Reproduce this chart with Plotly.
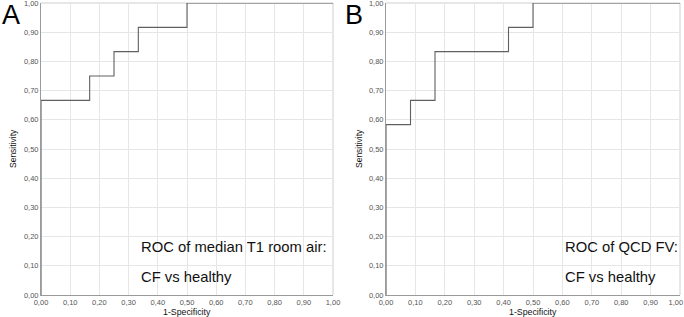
import plotly.graph_objects as go

# Panel A: ROC of median T1 room air
a_fpr = [0.0, 0.0, 1/6, 0.25, 1/3, 0.5, 1.0]
a_tpr = [0.0, 2/3, 0.75, 5/6, 11/12, 1.0, 1.0]
# Panel B: ROC of QCD FV
b_fpr = [0.0, 0.0, 1/12, 1/6, 5/12, 0.5, 1.0]
b_tpr = [0.0, 7/12, 2/3, 5/6, 11/12, 1.0, 1.0]

ticks = [0.0, 0.1, 0.2, 0.3, 0.4, 0.5, 0.6, 0.7, 0.8, 0.9, 1.0]
tick_labels = ["0,00", "0,10", "0,20", "0,30", "0,40", "0,50", "0,60", "0,70", "0,80", "0,90", "1,00"]
# last label of the right panel nudged left so it stays inside the page
tick_labels_b = tick_labels[:-1] + [tick_labels[-1] + "\u00a0\u00a0\u00a0\u00a0"]

fig = go.Figure()
fig.add_trace(go.Scatter(x=a_fpr, y=a_tpr, mode="lines", line=dict(color="#606060", width=1.1, shape="hv"),
                         xaxis="x", yaxis="y", showlegend=False, cliponaxis=False))
fig.add_trace(go.Scatter(x=b_fpr, y=b_tpr, mode="lines", line=dict(color="#606060", width=1.1, shape="hv"),
                         xaxis="x2", yaxis="y2", showlegend=False, cliponaxis=False))

W, H = 684, 317
ml, mr, mt, mb = 41, 4, 3, 22
pw = W - ml - mr
d1 = [0, (333 - ml) / pw]
d2 = [(386 - ml) / pw, 1.0]

axcommon = dict(range=[0, 1], tickvals=ticks, showgrid=True, gridcolor="#e6e6e6",
                gridwidth=1, showline=True, linecolor="#9a9a9a", linewidth=1, mirror=False,
                zeroline=False, ticks="", automargin=False,
                ticklabeloverflow="allow",
                tickfont=dict(family="Liberation Sans, Arial", size=7.5, color="#555555"))

fig.update_layout(
    width=W, height=H, margin=dict(l=ml, r=mr, t=mt, b=mb),
    paper_bgcolor="white", plot_bgcolor="white",
    xaxis=dict(domain=d1, anchor="y", ticktext=tick_labels, **axcommon),
    yaxis=dict(domain=[0, 1], anchor="x", ticktext=tick_labels, **axcommon),
    xaxis2=dict(domain=d2, anchor="y2", ticktext=tick_labels_b, **axcommon),
    yaxis2=dict(domain=[0, 1], anchor="x2", ticktext=tick_labels, **axcommon),
)

# borders (top/right light gray)
for xr, yr in [("x", "y"), ("x2", "y2")]:
    fig.add_shape(type="line", xref=xr + " domain", yref=yr + " domain", x0=0, x1=1, y0=1, y1=1,
                  line=dict(color="#cfcfcf", width=1), layer="below")
    fig.add_shape(type="line", xref=xr + " domain", yref=yr + " domain", x0=1, x1=1, y0=0, y1=1,
                  line=dict(color="#cfcfcf", width=1), layer="below")

font_xt = dict(family="Liberation Sans, Arial", size=8.8, color="#111111")
font_yt = dict(family="Liberation Sans, Arial", size=8.5, color="#111111")
font_big = dict(family="Liberation Sans, Arial", size=14.8, color="#111111")
font_letter = dict(family="Liberation Sans, Arial", size=27, color="#000000")

def px_x(p):
    return (p - ml) / pw

def px_y(p):
    return 1 - (p - mt) / (H - mt - mb)

ann = []
# axis titles
for cx in [(41 + 333) / 2, (386 + 680) / 2]:
    ann.append(dict(text="1-Specificity", x=px_x(cx), y=px_y(312), xref="paper", yref="paper",
                    showarrow=False, font=font_xt, xanchor="center", yanchor="middle"))
ann.append(dict(text="Sensitivity", x=px_x(13), y=px_y(149), xref="paper", yref="paper", textangle=-90,
                showarrow=False, font=font_yt, xanchor="center", yanchor="middle"))
ann.append(dict(text="Sensitivity", x=px_x(359), y=px_y(149), xref="paper", yref="paper", textangle=-90,
                showarrow=False, font=font_yt, xanchor="center", yanchor="middle"))
# panel letters
ann.append(dict(text="A", x=px_x(0), y=px_y(15), xref="paper", yref="paper", showarrow=False,
                font=font_letter, xanchor="left", yanchor="middle"))
ann.append(dict(text="B", x=px_x(343), y=px_y(15), xref="paper", yref="paper", showarrow=False,
                font=font_letter, xanchor="left", yanchor="middle"))
# in-plot texts
ann.append(dict(text="ROC of median T1 room air:", x=px_x(139), y=px_y(247), xref="paper", yref="paper",
                showarrow=False, font=font_big, xanchor="left", yanchor="middle"))
ann.append(dict(text="CF vs healthy", x=px_x(139), y=px_y(277), xref="paper", yref="paper",
                showarrow=False, font=font_big, xanchor="left", yanchor="middle"))
ann.append(dict(text="ROC of QCD FV:", x=px_x(563), y=px_y(247), xref="paper", yref="paper",
                showarrow=False, font=font_big, xanchor="left", yanchor="middle"))
ann.append(dict(text="CF vs healthy", x=px_x(563), y=px_y(277), xref="paper", yref="paper",
                showarrow=False, font=font_big, xanchor="left", yanchor="middle"))
fig.update_layout(annotations=ann)

fig.write_html("out.html", config={"displayModeBar": False},
               post_script="document.body.style.margin='0';document.body.style.overflow='hidden';")
